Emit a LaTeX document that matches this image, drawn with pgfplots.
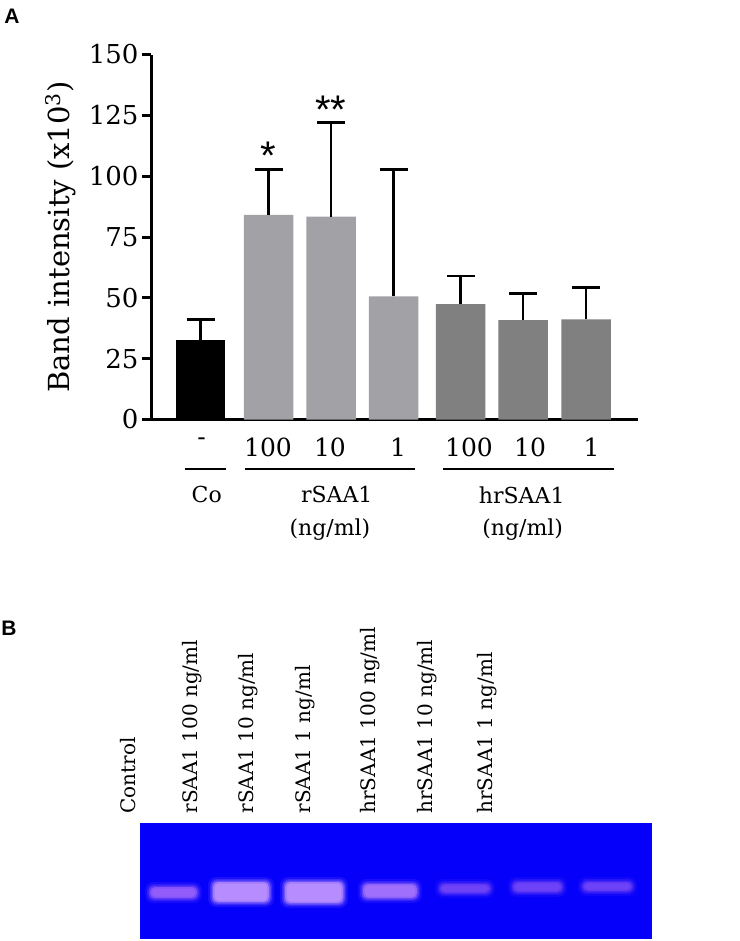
\documentclass[border=0pt]{standalone}
\usepackage{fontspec}
\setmainfont{DejaVu Serif}
\newfontfamily\panelfont{Liberation Sans}
\usepackage{pgfplots}
\usepackage{pgfplotstable}
\pgfplotsset{compat=1.18}
\definecolor{barblack}{RGB}{0,0,0}
\definecolor{barlight}{RGB}{161,161,166}
\definecolor{bardark}{RGB}{128,128,128}
\definecolor{gelblue}{RGB}{5,0,250}
\definecolor{bandbright}{RGB}{182,140,255}
\definecolor{bandmid}{RGB}{160,112,252}
\definecolor{bandlow}{RGB}{145,92,250}
\definecolor{bandfaint}{RGB}{110,66,246}

\pgfplotstableread{
x val err
0 32.8 8.2
}\co
\pgfplotstableread{
x val err
1.088 84.1 18.5
2.088 83.4 38.5
3.088 50.6 52.3
}\rsaa
\pgfplotstableread{
x val err
4.163 47.4 11.6
5.160 40.8 11.1
6.168 41.2 13.2
}\hrsaa

% gel bands: x1 x2 y1 y2 (pixel coordinates, y downward negative)
\newcommand{\band}[5]{%
  \addplot[fill=#5, draw=none, opacity=0.12, rounded corners=8pt] coordinates {(#1-5,-#3+5) (#2+5,-#3+5) (#2+5,-#4-5) (#1-5,-#4-5)} --cycle;
  \addplot[fill=#5, draw=none, opacity=0.22, rounded corners=7pt] coordinates {(#1-3,-#3+3) (#2+3,-#3+3) (#2+3,-#4-3) (#1-3,-#4-3)} --cycle;
  \addplot[fill=#5, draw=none, opacity=0.4, rounded corners=6pt] coordinates {(#1-1.5,-#3+1.5) (#2+1.5,-#3+1.5) (#2+1.5,-#4-1.5) (#1-1.5,-#4-1.5)} --cycle;
  \addplot[fill=#5, draw=none, opacity=0.75, rounded corners=5pt] coordinates {(#1,-#3) (#2,-#3) (#2,-#4) (#1,-#4)} --cycle;
  \addplot[fill=#5, draw=none, rounded corners=4pt] coordinates {(#1+2,-#3-1.5) (#2-2,-#3-1.5) (#2-2,-#4+1.5) (#1+2,-#4+1.5)} --cycle;
}

\begin{document}
\begin{tikzpicture}
\path[use as bounding box] (0pt,0pt) rectangle (739pt,-941pt);

\node[font=\panelfont\bfseries\fontsize{21}{21}\selectfont, anchor=center] at (12pt,-16pt) {A};
\node[font=\panelfont\bfseries\fontsize{21}{21}\selectfont, anchor=center] at (9pt,-628pt) {B};

\begin{axis}[
  at={(151pt,-419.5pt)}, anchor=south west,
  scale only axis, width=487pt, height=365pt,
  xmin=-0.792, xmax=7.0, ymin=0, ymax=150,
  axis lines=left, axis line style={line width=3pt, -},
  clip=false,
  ytick={0,25,...,150},
  tick align=outside, major tick length=9pt,
  ytick style={line width=3pt, black},
  xtick={0.019,1.08,2.072,3.16,4.296,5.272,6.259},
  xticklabels={-,100,10,1,100,10,1},
  xtick style={draw=none},
  /pgf/number format/assume math mode=true,
  yticklabel style={font=\fontsize{26}{26}\selectfont},
  xticklabel style={font=\fontsize{25}{25}\selectfont, anchor=north, yshift=-6pt},
  ylabel={Band intensity (x10\textsuperscript{3})},
  ylabel style={font=\fontsize{29}{29}\selectfont, at={(axis description cs:-0.185,0.5)}, anchor=center},
  ybar, bar width=0.792, bar shift=0pt,
  error bars/y dir=plus, error bars/y explicit,
  error bars/error bar style={line width=2.8pt, black},
  error bars/error mark options={rotate=90, mark size=14pt, line width=2.8pt, black},
]
\addplot[fill=barblack, draw=none] table[x=x, y=val, y error=err] {\co};
\addplot[fill=barlight, draw=none] table[x=x, y=val, y error=err] {\rsaa};
\addplot[fill=bardark, draw=none] table[x=x, y=val, y error=err] {\hrsaa};

\draw[line width=2pt] (axis cs:-0.248,-20.3) -- (axis cs:0.408,-20.3);
\draw[line width=2pt] (axis cs:0.712,-20.3) -- (axis cs:3.432,-20.3);
\draw[line width=2pt] (axis cs:3.88,-20.3) -- (axis cs:6.616,-20.3);
\node[font=\fontsize{22}{22}\selectfont] at (axis cs:0.0995,-31.0) {Co};
\node[font=\fontsize{22}{22}\selectfont] at (axis cs:2.18,-31.0) {rSAA1};
\node[font=\fontsize{22}{22}\selectfont] at (axis cs:2.07,-45.4) {(ng/ml)};
\node[font=\fontsize{22}{22}\selectfont] at (axis cs:5.14,-31.0) {hrSAA1};
\node[font=\fontsize{22}{22}\selectfont] at (axis cs:5.155,-45.4) {(ng/ml)};
\node[font=\panelfont\fontsize{40}{40}\selectfont] at (axis cs:1.088,108.5) {*};
\node[font=\panelfont\fontsize{40}{40}\selectfont] at (axis cs:2.088,127.5) {**};
\end{axis}

\begin{axis}[
  at={(140pt,-939pt)}, anchor=south west,
  scale only axis, width=512pt, height=116.3pt,
  xmin=140, xmax=652, ymin=-939, ymax=-822.7,
  hide axis, clip=false,
]
\addplot[fill=gelblue, draw=none] coordinates {(140,-939) (652,-939) (652,-822.7) (140,-822.7)} --cycle;
\band{150}{197}{887}{898}{bandlow}
\band{213}{269}{882}{902}{bandbright}
\band{285}{343}{882}{903}{bandbright}
\band{363}{417}{884}{898}{bandmid}
\band{440}{490}{884}{893}{bandfaint}
\band{513}{562}{882}{892}{bandfaint}
\band{583}{632}{882}{891}{bandfaint}
\node[rotate=90, anchor=west, font=\fontsize{20}{20}\selectfont] at (axis cs:128,-817) {Control};
\node[rotate=90, anchor=west, font=\fontsize{20}{20}\selectfont] at (axis cs:192,-817) {rSAA1 100 ng/ml};
\node[rotate=90, anchor=west, font=\fontsize{20}{20}\selectfont] at (axis cs:248,-817) {rSAA1 10 ng/ml};
\node[rotate=90, anchor=west, font=\fontsize{20}{20}\selectfont] at (axis cs:305,-817) {rSAA1 1 ng/ml};
\node[rotate=90, anchor=west, font=\fontsize{20}{20}\selectfont] at (axis cs:370,-817) {hrSAA1 100 ng/ml};
\node[rotate=90, anchor=west, font=\fontsize{20}{20}\selectfont] at (axis cs:427,-817) {hrSAA1 10 ng/ml};
\node[rotate=90, anchor=west, font=\fontsize{20}{20}\selectfont] at (axis cs:487,-817) {hrSAA1 1 ng/ml};
\end{axis}
\end{tikzpicture}
\end{document}
